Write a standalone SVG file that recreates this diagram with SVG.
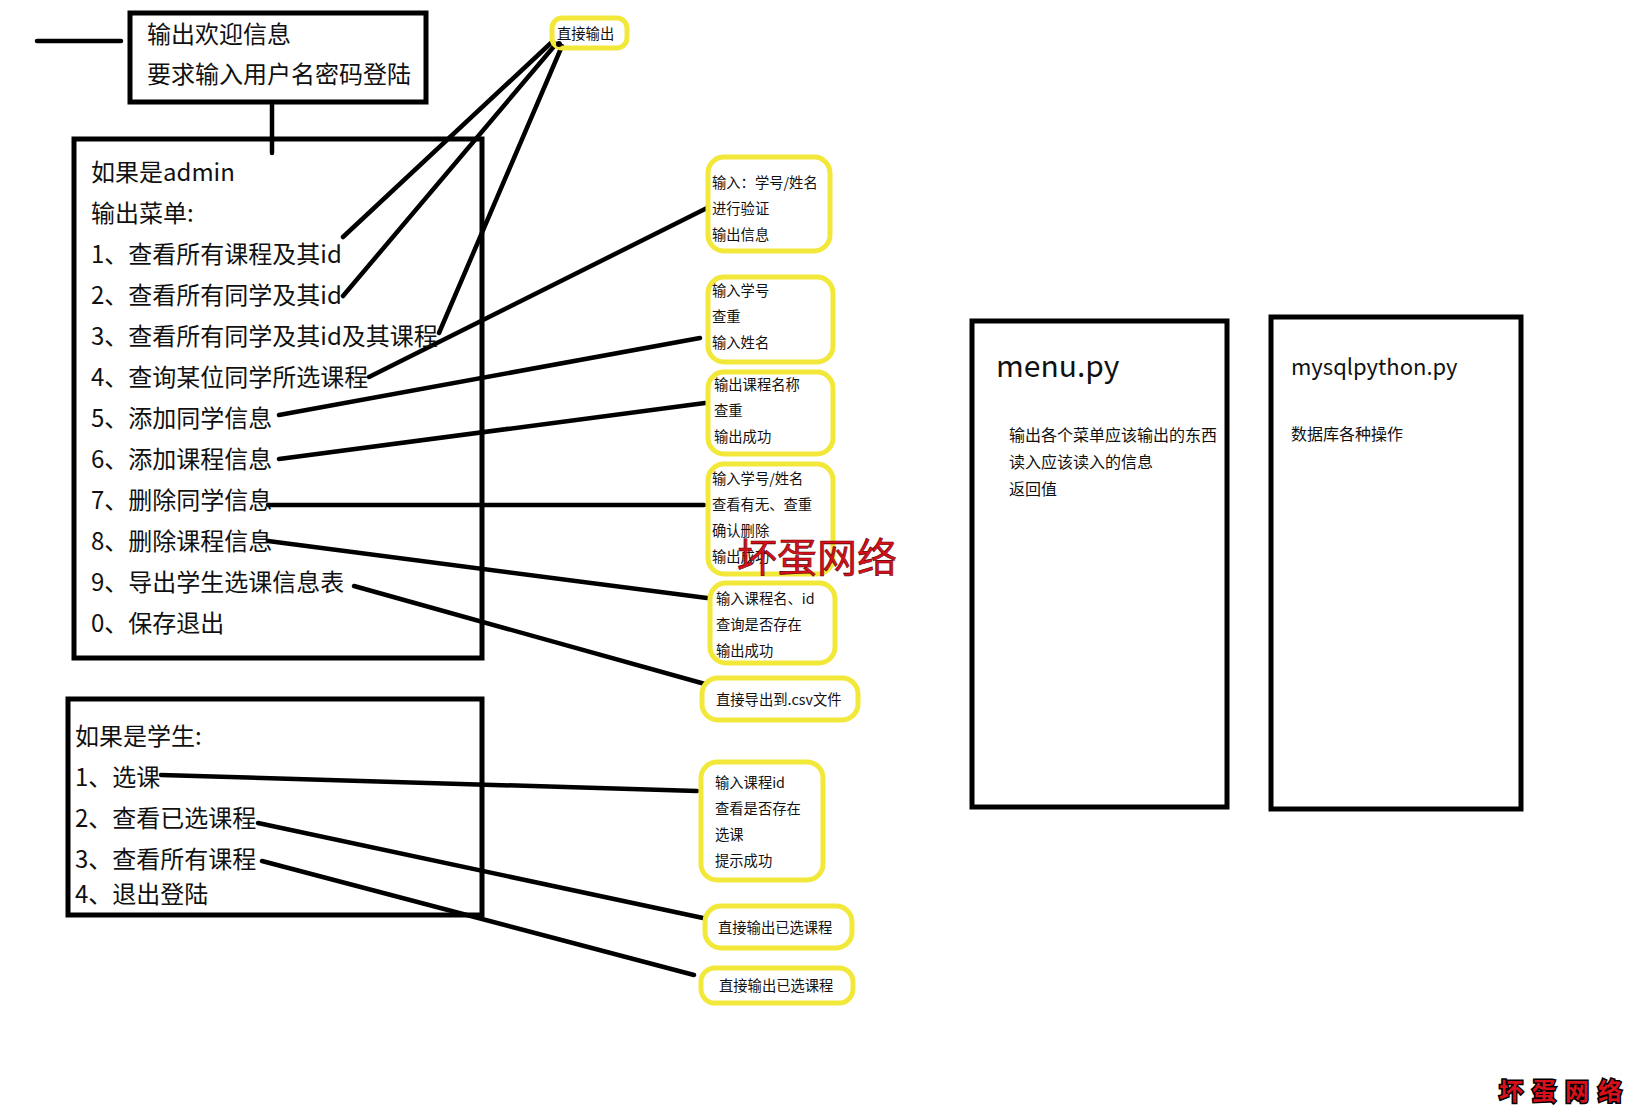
<svg xmlns="http://www.w3.org/2000/svg" width="1632" height="1116" viewBox="0 0 1632 1116">
<style>
  .box { fill: #fff; stroke: #000; stroke-width: 5; }
  .ybox { fill: #fff; stroke: #f2e83a; stroke-width: 5; }
  .big { font-family: "Noto Sans CJK SC", "Noto Sans", sans-serif; font-size: 24px; fill: #111; }
  .sm { font-family: "Noto Sans CJK SC", "Noto Sans", sans-serif; font-size: 14.3px; fill: #111; }
  .md { font-family: "Noto Sans CJK SC", "Noto Sans", sans-serif; font-size: 16px; fill: #111; }
  .conn line { stroke: #000; stroke-width: 4.5; stroke-linecap: round; }
  .wm { font-family: "Noto Sans CJK SC", sans-serif; fill: #d8101c; }
</style>
<rect width="1632" height="1116" fill="#fff"/>

<g id="connectors" class="conn">
  <line x1="37" y1="41" x2="121" y2="41"/>
  <line x1="272" y1="103" x2="272" y2="153"/>
  <line x1="343" y1="237" x2="552" y2="42"/>
  <line x1="343" y1="296" x2="556" y2="44"/>
  <line x1="439" y1="333" x2="562" y2="46"/>
  <line x1="369" y1="377" x2="707" y2="208"/>
  <line x1="279" y1="415" x2="700" y2="338"/>
  <line x1="279" y1="459" x2="705" y2="403"/>
  <line x1="268" y1="505" x2="704" y2="505"/>
  <line x1="268" y1="541" x2="707" y2="598"/>
  <line x1="354" y1="586" x2="705" y2="684"/>
  <line x1="161" y1="775" x2="697" y2="791"/>
  <line x1="258" y1="823" x2="703" y2="918"/>
  <line x1="262" y1="861" x2="694" y2="975"/>
</g>

<g id="welcome">
  <rect class="box" x="130" y="13" width="296" height="89"/>
  <text class="big" x="147" y="43">输出欢迎信息</text>
  <text class="big" x="147" y="83">要求输入用户名密码登陆</text>
</g>

<g id="admin">
  <rect class="box" x="74" y="139" width="408" height="519" style="fill:none"/>
  <text class="big" x="91" y="181">如果是admin</text>
  <text class="big" x="91" y="222">输出菜单:</text>
  <text class="big" x="91" y="263">1、查看所有课程及其id</text>
  <text class="big" x="91" y="304">2、查看所有同学及其id</text>
  <text class="big" x="91" y="345">3、查看所有同学及其id及其课程</text>
  <text class="big" x="91" y="386">4、查询某位同学所选课程</text>
  <text class="big" x="91" y="427">5、添加同学信息</text>
  <text class="big" x="91" y="468">6、添加课程信息</text>
  <text class="big" x="91" y="509">7、删除同学信息</text>
  <text class="big" x="91" y="550">8、删除课程信息</text>
  <text class="big" x="91" y="591">9、导出学生选课信息表</text>
  <text class="big" x="91" y="632">0、保存退出</text>
</g>

<g id="student">
  <rect class="box" x="68" y="699" width="414" height="216" style="fill:none"/>
  <text class="big" x="75" y="745">如果是学生:</text>
  <text class="big" x="75" y="786">1、选课</text>
  <text class="big" x="75" y="827">2、查看已选课程</text>
  <text class="big" x="75" y="868">3、查看所有课程</text>
  <text class="big" x="75" y="903">4、退出登陆</text>
</g>

<g id="y-direct">
  <rect class="ybox" x="552" y="18" width="75" height="30" rx="10" style="fill:none"/>
  <text class="sm" x="557" y="39">直接输出</text>
  <circle cx="559" cy="44" r="3" fill="#000"/>
</g>

<g id="y-query">
  <rect class="ybox" x="708" y="157" width="122" height="94" rx="16"/>
  <text class="sm" x="712" y="188">输入：学号/姓名</text>
  <text class="sm" x="712" y="214">进行验证</text>
  <text class="sm" x="712" y="240">输出信息</text>
</g>

<g id="y-addstu">
  <rect class="ybox" x="708" y="277" width="125" height="85" rx="16"/>
  <text class="sm" x="712" y="296">输入学号</text>
  <text class="sm" x="712" y="322">查重</text>
  <text class="sm" x="712" y="348">输入姓名</text>
</g>

<g id="y-addcourse">
  <rect class="ybox" x="708" y="372" width="125" height="82" rx="16"/>
  <text class="sm" x="714" y="390">输出课程名称</text>
  <text class="sm" x="714" y="416">查重</text>
  <text class="sm" x="714" y="442">输出成功</text>
</g>

<g id="y-delstu">
  <rect class="ybox" x="708" y="464" width="125" height="110" rx="16"/>
  <text class="sm" x="712" y="484">输入学号/姓名</text>
  <text class="sm" x="712" y="510">查看有无、查重</text>
  <text class="sm" x="712" y="536">确认删除</text>
  <text class="sm" x="712" y="562">输出成功</text>
</g>

<g id="y-delcourse">
  <rect class="ybox" x="710" y="583" width="125" height="80" rx="16"/>
  <text class="sm" x="716" y="604">输入课程名、id</text>
  <text class="sm" x="716" y="630">查询是否存在</text>
  <text class="sm" x="716" y="656">输出成功</text>
</g>

<g id="y-export">
  <rect class="ybox" x="702" y="678" width="156" height="42" rx="16"/>
  <text class="sm" x="716" y="705">直接导出到.csv文件</text>
</g>

<g id="y-select">
  <rect class="ybox" x="701" y="762" width="122" height="118" rx="16"/>
  <text class="sm" x="715" y="788">输入课程id</text>
  <text class="sm" x="715" y="814">查看是否存在</text>
  <text class="sm" x="715" y="840">选课</text>
  <text class="sm" x="715" y="866">提示成功</text>
</g>

<g id="y-selected">
  <rect class="ybox" x="705" y="906" width="147" height="42" rx="16"/>
  <text class="sm" x="718" y="933">直接输出已选课程</text>
</g>

<g id="y-allcourses">
  <rect class="ybox" x="701" y="968" width="152" height="35" rx="14"/>
  <text class="sm" x="719" y="991">直接输出已选课程</text>
</g>

<g id="menu-py">
  <rect class="box" x="972" y="321" width="255" height="486"/>
  <text x="996" y="377" style="font-family:'Noto Sans CJK SC','Noto Sans',sans-serif;font-size:30px;fill:#111">menu.py</text>
  <text class="md" x="1009" y="441">输出各个菜单应该输出的东西</text>
  <text class="md" x="1009" y="468">读入应该读入的信息</text>
  <text class="md" x="1009" y="495">返回值</text>
</g>

<g id="mysqlpython-py">
  <rect class="box" x="1271" y="317" width="250" height="492"/>
  <text x="1291" y="375" style="font-family:'Noto Sans CJK SC','Noto Sans',sans-serif;font-size:22px;fill:#111">mysqlpython.py</text>
  <text class="md" x="1291" y="440">数据库各种操作</text>
</g>

<text class="wm" x="737" y="572" font-size="40" style="stroke:#5a0000;stroke-width:0.6">坏蛋网络</text>
<text class="wm" x="1499" y="1100" font-size="24" font-weight="bold" letter-spacing="9" style="stroke:#000;stroke-width:3;paint-order:stroke">坏蛋网络</text>
</svg>
